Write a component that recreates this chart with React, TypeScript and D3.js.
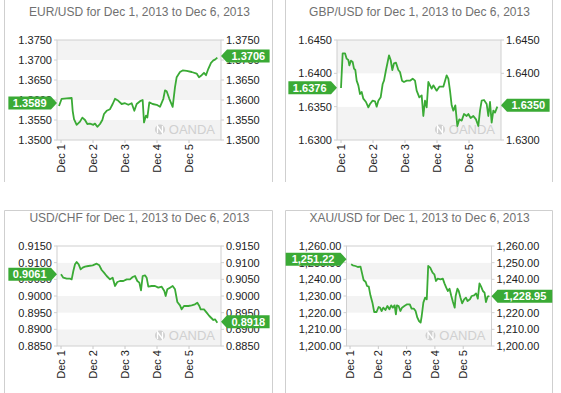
import * as d3 from "d3";

// Day ticks along the bottom of every panel
const dayLabels = ["Dec 1", "Dec 2", "Dec 3", "Dec 4", "Dec 5"];

// Hours after Dec 1 00:00 and the rate at that moment
const eurHours = [-1.5, 0.5, 4.25, 8, 8.75, 9.75, 11.75, 14.25, 16, 18, 19.75, 21.75, 24.25, 25.5, 27.25, 29.25, 31, 32.25, 34.25, 36.75, 38.75, 40.5, 43, 45.5, 48, 50.5, 53, 55, 56.75, 59.75, 61.25, 62.25, 63.75, 64.75, 66.25, 68.75, 71.75, 74.25, 76.75, 78, 79.25, 81.25, 83.75, 85.5, 86.75, 89.25, 91.25, 94.25, 98, 101.75, 103.5, 105.5, 107.25, 108.75, 110.5, 112.5, 114.25, 115.5, 117.25];
const eurValues = [1.3585, 1.3603, 1.3604, 1.3605, 1.3573, 1.3552, 1.3538, 1.3546, 1.3556, 1.355, 1.354, 1.3541, 1.3538, 1.3541, 1.3533, 1.354, 1.355, 1.3565, 1.3573, 1.3577, 1.359, 1.3603, 1.3598, 1.359, 1.3592, 1.3588, 1.3592, 1.3573, 1.359, 1.3598, 1.36, 1.3544, 1.3561, 1.3556, 1.3594, 1.359, 1.3588, 1.3583, 1.3603, 1.3624, 1.3622, 1.3603, 1.3583, 1.3632, 1.3657, 1.367, 1.3674, 1.3673, 1.367, 1.3666, 1.3657, 1.3662, 1.3668, 1.3662, 1.3678, 1.3693, 1.3699, 1.3701, 1.3706];
const eurTicks = [1.35, 1.355, 1.36, 1.365, 1.37, 1.375];

const gbpHours = [0, 1.25, 3, 4.25, 5.5, 6.25, 7.5, 8.75, 9.75, 10.75, 11.75, 13, 14.25, 15.5, 16.75, 18.75, 20.5, 21.75, 23.75, 25.5, 26.75, 28, 29.75, 31.25, 32.25, 33.75, 35, 36, 37.25, 38.5, 39.75, 41.25, 43, 44.25, 45.75, 47.25, 49.25, 51.75, 53.75, 55.5, 56.75, 58.75, 60.5, 61.75, 63, 64.25, 65.5, 66.75, 68, 69.25, 71.75, 73.75, 76.75, 79.25, 80.5, 81.75, 83, 84.25, 85.75, 87.25, 88.75, 90.5, 92.25, 94.25, 95.5, 97.25, 99.25, 101.25, 103, 104.25, 105.5, 107.25, 109.25, 110.5, 111.75, 113, 114.25, 115.5, 117.25];
const gbpValues = [1.6378, 1.643, 1.643, 1.6422, 1.642, 1.6412, 1.6419, 1.6417, 1.6407, 1.6405, 1.6389, 1.6382, 1.6369, 1.6372, 1.6362, 1.6357, 1.6349, 1.6354, 1.6359, 1.6358, 1.635, 1.6359, 1.6364, 1.6384, 1.6389, 1.6405, 1.6417, 1.6427, 1.642, 1.6405, 1.6415, 1.6416, 1.6405, 1.6402, 1.6389, 1.6387, 1.6389, 1.6389, 1.6392, 1.6389, 1.6374, 1.6364, 1.6367, 1.6336, 1.6359, 1.6349, 1.6387, 1.6382, 1.6377, 1.6382, 1.6374, 1.638, 1.638, 1.6397, 1.6392, 1.6374, 1.6352, 1.6344, 1.6352, 1.6321, 1.6331, 1.6329, 1.6339, 1.6336, 1.6339, 1.6333, 1.6336, 1.6331, 1.6321, 1.6344, 1.6359, 1.636, 1.6354, 1.6336, 1.6357, 1.6326, 1.6344, 1.6341, 1.635];
const gbpTicks = [1.63, 1.635, 1.64, 1.645];

const chfHours = [0, 1.75, 4.25, 6.75, 8, 9.25, 10.5, 11.75, 13.25, 14.75, 16.25, 18, 20.5, 23.75, 26.75, 28.75, 30.5, 32.25, 34.25, 36.75, 38.75, 40.5, 42.25, 44.25, 46.75, 49.25, 51.75, 53.75, 55.5, 57.25, 58.75, 60, 61.25, 63, 64.25, 65.5, 68, 70.5, 73, 75.5, 77.5, 78.5, 79.75, 81.75, 83.75, 85.5, 87.25, 89.25, 90.5, 92.25, 95.5, 98, 100.5, 102.25, 103.75, 104.75, 107.25, 109.25, 111.25, 114.25, 115.5, 117.25];
const chfValues = [0.9065, 0.9055, 0.9052, 0.9052, 0.905, 0.9075, 0.9095, 0.9102, 0.9095, 0.908, 0.9085, 0.9088, 0.909, 0.9092, 0.9097, 0.9092, 0.9078, 0.907, 0.906, 0.905, 0.9055, 0.903, 0.9042, 0.9045, 0.9045, 0.905, 0.905, 0.9057, 0.906, 0.9045, 0.904, 0.9017, 0.906, 0.9062, 0.9055, 0.9028, 0.903, 0.903, 0.9025, 0.9028, 0.9015, 0.9, 0.902, 0.9025, 0.903, 0.902, 0.8982, 0.8972, 0.896, 0.897, 0.897, 0.8972, 0.8975, 0.898, 0.897, 0.896, 0.896, 0.895, 0.894, 0.8928, 0.893, 0.892];
const chfTicks = [0.885, 0.89, 0.895, 0.9, 0.905, 0.91, 0.915];

const xauHours = [0.9, 2.3, 4.6, 6.6, 8.9, 10.4, 11.5, 13.3, 14.4, 15.9, 17.3, 19, 20.5, 22.5, 24.2, 25.4, 26.8, 28.2, 30, 31.7, 33.4, 34.9, 36.3, 37.8, 38.9, 39.8, 41.2, 42.7, 44.1, 46.1, 48.4, 50.7, 52.2, 54.2, 55.6, 57.1, 58.5, 59.9, 60.8, 62.2, 63.7, 65.1, 66.3, 68, 70, 71.5, 72.9, 74.4, 76.7, 78.7, 80.1, 81.6, 83, 84.4, 85.9, 87.3, 88.8, 89.6, 91.1, 92.2, 93.7, 95.1, 96.8, 98.3, 99.7, 101.7, 103.2, 105.2, 106.9, 108.4, 109.8, 111.2, 112.7, 114.1, 115.3, 116.7, 118.2];
const xauValues = [1249, 1248.4, 1248, 1247.4, 1247.6, 1243, 1239.6, 1238.4, 1236, 1235.6, 1230.4, 1226, 1220.4, 1220.4, 1223.4, 1223, 1221, 1223, 1221.6, 1224, 1222, 1224.4, 1223, 1224.4, 1219, 1224.4, 1224, 1221, 1223, 1224, 1225, 1225, 1222.4, 1222.4, 1221, 1217, 1215, 1214, 1218, 1226, 1229, 1228, 1248, 1247, 1244, 1243, 1239, 1240.4, 1240, 1240.4, 1237.6, 1235, 1233, 1234.4, 1230, 1226.4, 1223, 1230, 1234.4, 1233, 1229, 1225.6, 1228, 1229, 1227, 1228, 1230, 1230.4, 1231.6, 1228.4, 1237.6, 1235.6, 1233, 1232, 1226.4, 1229.6, 1230];
const xauTicks = [1200, 1210, 1220, 1230, 1240, 1250, 1260];

const titles = [
  "EUR/USD for Dec 1, 2013 to Dec 6, 2013",
  "GBP/USD for Dec 1, 2013 to Dec 6, 2013",
  "USD/CHF for Dec 1, 2013 to Dec 6, 2013",
  "XAU/USD for Dec 1, 2013 to Dec 6, 2013",
];
const openValues = [1.3589, 1.6376, 0.9061, 1251.22];
const lastValues = [1.3706, 1.635, 0.8918, 1228.95];

const GREEN = "#3aaa35";
const FONT = "'Liberation Sans', Arial, Helvetica, sans-serif";
const day0 = Date.UTC(2013, 11, 1);
const toDate = (h: number) => new Date(day0 + h * 3600e3);

const fx4 = d3.format(".4f");
const fxGold = d3.format(",.2f");

const panels = [
  { x: 0, y: 0, left: 57, right: 221, hours: eurHours, values: eurValues, ticks: eurTicks, fmt: fx4 },
  { x: 280, y: 0, left: 57, right: 221, hours: gbpHours, values: gbpValues, ticks: gbpTicks, fmt: fx4 },
  { x: 0, y: 206, left: 57, right: 221, hours: chfHours, values: chfValues, ticks: chfTicks, fmt: fx4 },
  { x: 280, y: 206, left: 66.5, right: 211.5, hours: xauHours, values: xauValues, ticks: xauTicks, fmt: fxGold },
];

function Tag({ tip, y, label, side }: { tip: number; y: number; label: string; side: "left" | "right" }) {
  const w = label.length * 6.1 + 6;
  const h = 13;
  const a = 6;
  const top = y - h / 2;
  let d: string;
  let cx: number;
  if (side === "left") {
    const x1 = tip - a;
    const x0 = x1 - w;
    d = `M${x0},${top}H${x1}L${tip},${y}L${x1},${top + h}H${x0}Z`;
    cx = (x0 + x1) / 2;
  } else {
    const x0 = tip + a;
    const x1 = x0 + w;
    d = `M${tip},${y}L${x0},${top}H${x1}V${top + h}H${x0}Z`;
    cx = (x0 + x1) / 2;
  }
  return (
    <g>
      <path d={d} fill={GREEN} />
      <text x={cx} y={y} dy="0.36em" textAnchor="middle" fill="#fff" fontSize={11} fontWeight="bold">
        {label}
      </text>
    </g>
  );
}

function Panel({ i }: { i: number }) {
  const p = panels[i];
  const top = 40;
  const bottom = 140;
  const x = d3.scaleTime().domain([toDate(-3), toDate(120)]).range([p.left, p.right]);
  const y = d3.scaleLinear().domain(d3.extent(p.ticks) as [number, number]).range([bottom, top]);
  const line = d3
    .line<number>()
    .x((_, k) => x(toDate(p.hours[k])))
    .y((d) => y(d));
  const bands = p.ticks.slice(0, -1).map((t, k) => ({ lo: t, hi: p.ticks[k + 1], k }));
  const lbl = (v: number) => p.fmt(v);

  // OANDA watermark, bottom right of the plot
  const wmRight = p.right - 6;
  const wmBase = bottom - 6;

  return (
    <g transform={`translate(${p.x},${p.y})`} fontFamily={FONT}>
      <text x={139.5} y={16} textAnchor="middle" fontSize={12} fill="#707070">
        {titles[i]}
      </text>
      {bands.map((b) => (
        <rect
          key={b.k}
          x={p.left}
          y={y(b.hi)}
          width={p.right - p.left}
          height={y(b.lo) - y(b.hi)}
          fill={b.k % 2 === 0 ? "#f3f3f3" : "#ffffff"}
        />
      ))}
      <rect x={p.left} y={top} width={p.right - p.left} height={bottom - top} fill="none" stroke="#d0d0d0" />
      {p.ticks.map((t) => (
        <g key={t}>
          <line x1={p.left - 3} x2={p.left} y1={y(t)} y2={y(t)} stroke="#d0d0d0" />
          <line x1={p.right} x2={p.right + 3} y1={y(t)} y2={y(t)} stroke="#d0d0d0" />
          <text x={p.left - 5} y={y(t)} dy="0.36em" textAnchor="end" fontSize={11} fill="#222">
            {lbl(t)}
          </text>
          <text x={p.right + 5} y={y(t)} dy="0.36em" textAnchor="start" fontSize={11} fill="#222">
            {lbl(t)}
          </text>
        </g>
      ))}
      {dayLabels.map((d, k) => {
        const tx = x(toDate(24 * k));
        return (
          <g key={d}>
            <line x1={tx} x2={tx} y1={bottom} y2={bottom + 3} stroke="#c8c8c8" />
            <text
              transform={`translate(${tx},${bottom + 4}) rotate(-90)`}
              dy="0.36em"
              textAnchor="end"
              fontSize={11}
              fill="#222"
            >
              {d}
            </text>
          </g>
        );
      })}
      <g fill="#d2d2d2">
        <text x={wmRight} y={wmBase} textAnchor="end" fontSize={13} fill="#d0d0d0">
          OANDA
        </text>
        <circle cx={wmRight - 55} cy={wmBase - 4.5} r={5} fill="#d0d0d0" />
        <path
          d={`M${wmRight - 57.5},${wmBase - 1}V${wmBase - 8}L${wmRight - 52.5},${wmBase - 1}V${wmBase - 8}`}
          fill="none"
          stroke="#fff"
          strokeWidth={1.3}
        />
      </g>
      <path d={line(p.values) ?? ""} fill="none" stroke={GREEN} strokeWidth={1.8} strokeLinejoin="round" />
      <Tag tip={p.left} y={y(openValues[i]) - 1.5} label={p.fmt(openValues[i])} side="left" />
      <Tag tip={p.right} y={y(lastValues[i]) - 1.5} label={p.fmt(lastValues[i])} side="right" />
    </g>
  );
}

export default function App() {
  const border = "#cfcfcf";
  return (
    <svg width={561} height={393} style={{ position: "absolute", left: 0, top: 0, background: "#fff" }}>
      <rect width={561} height={393} fill="#fff" />
      {/* top row frames: sides only */}
      <line x1={4.5} x2={4.5} y1={0} y2={182} stroke={border} />
      <line x1={272.5} x2={272.5} y1={0} y2={182} stroke={border} />
      <line x1={285.5} x2={285.5} y1={0} y2={182} stroke={border} />
      <line x1={552.5} x2={552.5} y1={0} y2={182} stroke={border} />
      {/* bottom row frames */}
      <path d="M4.5,393V210.5H272.5V393" fill="none" stroke={border} />
      <path d="M285.5,393V210.5H552.5V393" fill="none" stroke={border} />
      {panels.map((_, i) => (
        <Panel key={i} i={i} />
      ))}
    </svg>
  );
}
